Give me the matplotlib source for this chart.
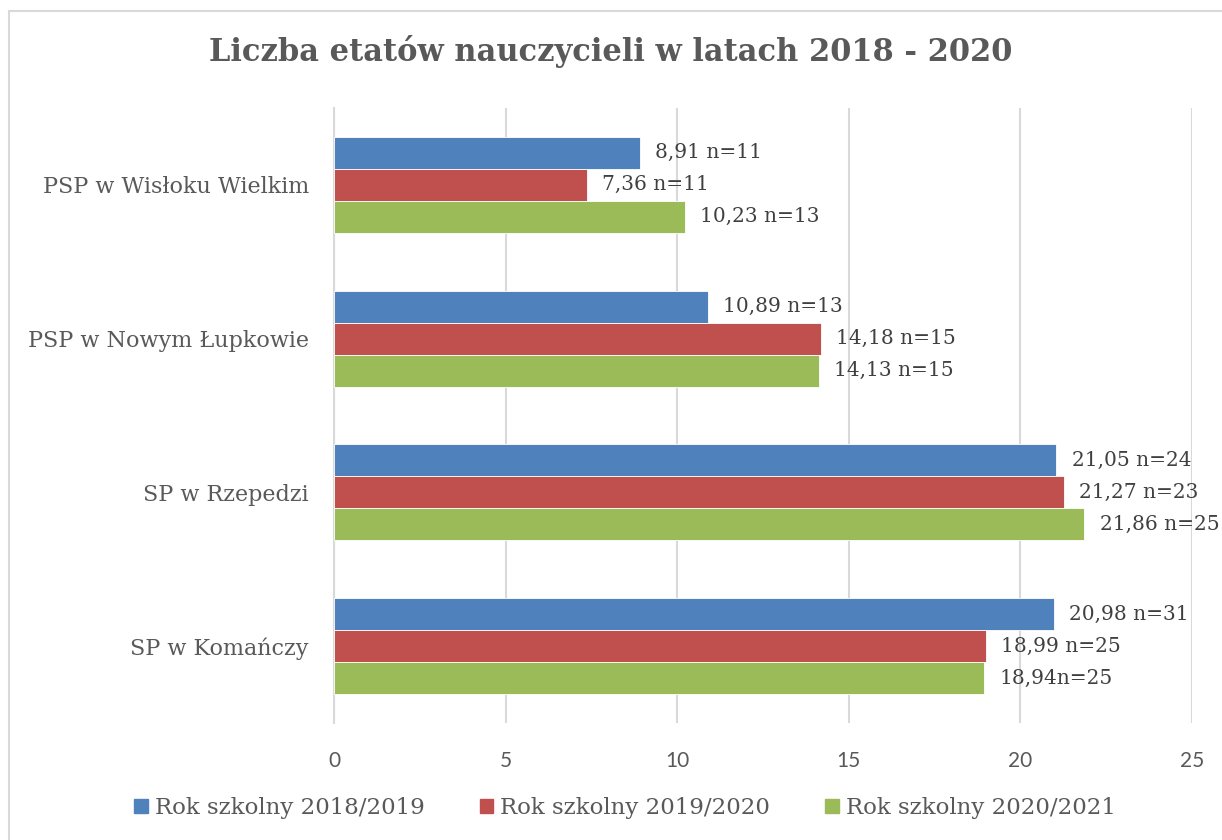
import matplotlib.pyplot as plt
from matplotlib.patches import Patch, Rectangle
import numpy as np

schools = ['PSP w Wisłoku Wielkim', 'PSP w Nowym Łupkowie', 'SP w Rzepedzi', 'SP w Komańczy']
series = ['Rok szkolny 2018/2019', 'Rok szkolny 2019/2020', 'Rok szkolny 2020/2021']
v2018 = [8.91, 10.89, 21.05, 20.98]
v2019 = [7.36, 14.18, 21.27, 18.99]
v2020 = [10.23, 14.13, 21.86, 18.94]
n2018 = [11, 13, 24, 31]
n2019 = [11, 15, 23, 25]
n2020 = [13, 15, 25, 25]
labels2018 = ['8,91 n=11', '10,89 n=13', '21,05 n=24', '20,98 n=31']
labels2019 = ['7,36 n=11', '14,18 n=15', '21,27 n=23', '18,99 n=25']
labels2020 = ['10,23 n=13', '14,13 n=15', '21,86 n=25', '18,94n=25']
colors = ['#4F81BD', '#C0504D', '#9BBB59']

serif = 'DejaVu Serif'
grey = '#595959'

fig = plt.figure(figsize=(12.22, 8.4), dpi=100)
fig.patches.append(Rectangle((9 / 1222, -0.1), 1.2, 1 - 11 / 840 + 0.1,
                             transform=fig.transFigure, fill=False,
                             edgecolor='#D9D9D9', linewidth=1.5))
ax = fig.add_axes([334 / 1222, 1 - 723 / 840, 858 / 1222, 615 / 840])

y = np.arange(len(schools))
h = 0.208
all_vals = [v2018, v2019, v2020]
all_labels = [labels2018, labels2019, labels2020]
for i, (vals, labs) in enumerate(zip(all_vals, all_labels)):
    pos = y + (i - 1) * h
    ax.barh(pos, vals, height=h, color=colors[i], edgecolor='white', linewidth=0.6, zorder=3)
    for p, v, t in zip(pos, vals, labs):
        ax.annotate(t, (v, p), xytext=(11, 0), textcoords='offset points',
                    va='center', ha='left', fontsize=14.5, color='#404040',
                    family=serif, annotation_clip=False, zorder=4)

ax.set_xlim(0, 25)
ax.set_ylim(3.5, -0.5)
ax.set_xticks([0, 5, 10, 15, 20, 25])
ax.set_yticks(y)
ax.set_yticklabels(schools, fontsize=16, color=grey, family=serif)
ax.tick_params(axis='x', length=0, pad=20, labelsize=15, labelcolor=grey)
ax.tick_params(axis='y', length=0, pad=18)
for t in ax.get_xticklabels():
    t.set_family('Lato')
ax.grid(axis='x', color='#D9D9D9', linewidth=1.5, zorder=0)
for s in ['top', 'right', 'bottom']:
    ax.spines[s].set_visible(False)
ax.spines['left'].set_color('#D9D9D9')
ax.spines['left'].set_linewidth(1.5)

fig.text(0.5, 1 - 52 / 840, 'Liczba etatów nauczycieli w latach 2018 - 2020',
         ha='center', va='center', fontsize=22, fontweight='bold', color=grey, family=serif)

handles = [Patch(color=c, label=s) for c, s in zip(colors, series)]
fig.legend(handles=handles, loc='center', bbox_to_anchor=(625 / 1222, 1 - 808 / 840), ncol=3,
           frameon=False, handlelength=0.6, handleheight=0.6, handletextpad=0.3,
           columnspacing=2.4, prop={'family': serif, 'size': 16.5}, labelcolor=grey)

fig.savefig('out.png', dpi=100)
